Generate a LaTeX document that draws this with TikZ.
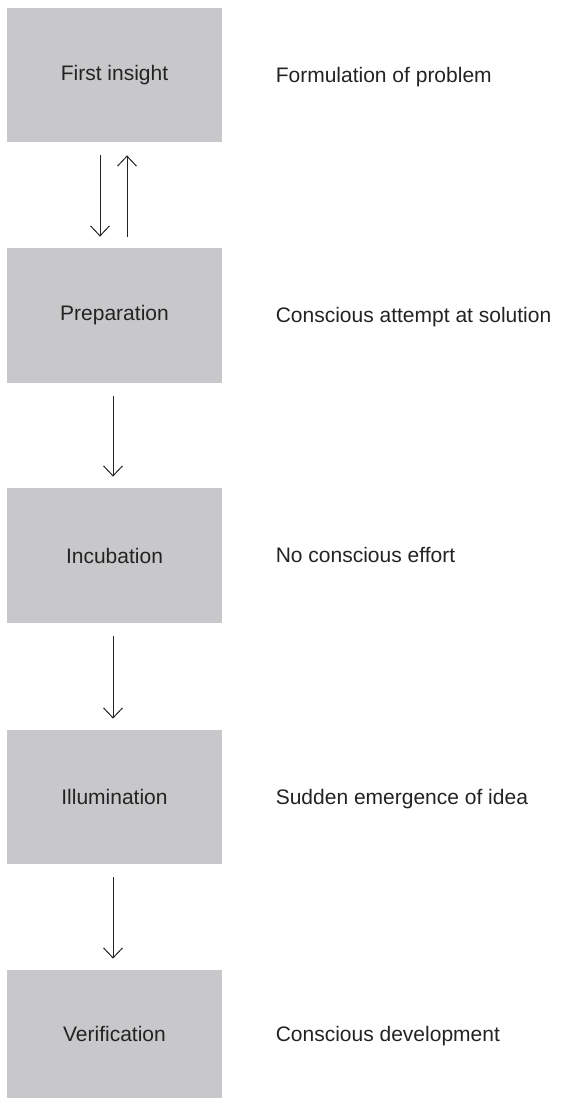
\documentclass[tikz,border=0pt]{standalone}
\usepackage{fontspec}
\setmainfont{Liberation Sans}
\usetikzlibrary{arrows.meta, positioning}
\definecolor{boxgray}{RGB}{200,200,202}
\definecolor{inkgray}{RGB}{35,35,35}

\begin{document}
\begin{tikzpicture}[
    x=0.5pt, y=-0.5pt,
    stage/.style={rectangle, fill=boxgray, minimum width=107.5pt, inner sep=0pt, text=inkgray, font=\fontsize{10.5}{12}\selectfont},
    desc/.style={inner sep=0pt, text height=0.9em, text depth=0.18em, text=inkgray, font=\fontsize{10.5}{12}\selectfont},
    arrow/.style={-{Straight Barb[length=5pt, width=9.5pt]}, line width=0.5pt, draw=inkgray, shorten <=6.5pt, shorten >=5.5pt}
]
    \useasboundingbox (0,0) rectangle (564,1099);

    % --- Stage boxes with their descriptions ---
    \foreach \i/\y/\h/\name/\what in {1/75/67/First insight/Formulation of problem,
                                      2/315.5/67.5/Preparation/Conscious attempt at solution,
                                      3/555.5/67.5/Incubation/No conscious effort,
                                      4/797/67/Illumination/Sudden emergence of idea,
                                      5/1034/64/Verification/Conscious development} {
        \node[stage, minimum height=\h pt] (S\i) at (114.5,\y) {\name};
        \node[desc, right=26.5pt of S\i] (D\i) {\what};
    }

    % --- Arrows between stages ---
    \draw[arrow] ([xshift=-7.25pt]S1.south) -- ([xshift=-7.25pt]S2.north);
    \draw[arrow, shorten <=5.5pt, shorten >=6.5pt] ([xshift=6.25pt]S2.north) -- ([xshift=6.25pt]S1.south);
    \foreach \i/\j in {2/3, 3/4, 4/5} {
        \draw[arrow] ([xshift=-0.75pt]S\i.south) -- ([xshift=-0.75pt]S\j.north);
    }
\end{tikzpicture}
\end{document}
